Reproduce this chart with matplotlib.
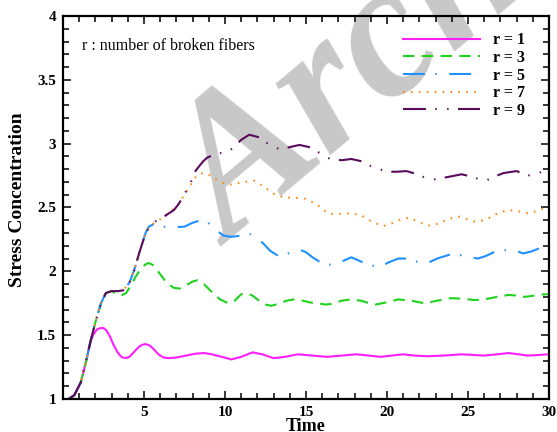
import numpy as np
import matplotlib
matplotlib.use('Agg')
import matplotlib.pyplot as plt
from matplotlib.ticker import MultipleLocator

# tramo comun de subida (todas las curvas)
subida_t = [0.35, 0.7, 1.1, 1.4, 1.7]
subida_s = [1.0, 1.03, 1.13, 1.28, 1.45]

# r = 1
r1_t = [1.9, 2.1, 2.3, 2.5, 2.7, 2.9, 3.1, 3.35, 3.6, 3.85, 4.1, 4.4, 4.7, 4.9, 5.1,
        5.35, 5.6, 5.9, 6.2, 6.55, 7.0, 7.6, 8.2, 8.7, 9.2, 9.8, 10.4, 11.0, 11.7,
        12.3, 13.0, 13.7, 14.5, 15.4, 16.3, 17.2, 18.1, 18.9, 19.6, 20.3, 21.0,
        21.7, 22.5, 23.5, 24.6, 25.3, 26.0, 26.8, 27.5, 28.1, 28.7, 29.4, 30.0]
r1_s = [1.51, 1.545, 1.555, 1.556, 1.535, 1.49, 1.43, 1.37, 1.33, 1.32, 1.33, 1.37,
        1.41, 1.425, 1.43, 1.42, 1.39, 1.35, 1.325, 1.32, 1.325, 1.34, 1.355, 1.36,
        1.35, 1.33, 1.31, 1.33, 1.365, 1.35, 1.32, 1.33, 1.35, 1.34, 1.33, 1.34,
        1.35, 1.34, 1.33, 1.34, 1.35, 1.34, 1.335, 1.34, 1.35, 1.345, 1.34, 1.35,
        1.36, 1.35, 1.34, 1.345, 1.35]

# tramo comun hasta la meseta
meseta_t = [2.0, 2.35, 2.65, 3.0]
meseta_s = [1.60, 1.75, 1.83, 1.845]

# r = 3
r3_t = [3.3, 3.6, 3.9, 4.2, 4.5, 4.8, 5.1, 5.3, 5.55, 5.8, 6.05, 6.4, 6.85, 7.2,
        7.6, 8.0, 8.3, 8.7, 9.25, 9.7, 10.2, 10.6, 11.0, 11.3, 11.7, 12.1, 12.5,
        12.85, 13.3, 13.8, 14.25, 14.8, 15.3, 15.7, 16.2, 16.6, 17.2, 17.8, 18.4,
        18.9, 19.3, 19.9, 20.7, 21.5, 22.3, 23.1, 23.95, 24.7, 25.4, 26.0, 26.8,
        27.5, 28.0, 28.5, 29.1, 29.7, 30.0]
r3_s = [1.825, 1.81, 1.83, 1.89, 1.96, 2.02, 2.055, 2.065, 2.05, 2.01, 1.97, 1.91,
        1.87, 1.865, 1.89, 1.92, 1.93, 1.90, 1.83, 1.78, 1.75, 1.77, 1.82, 1.83,
        1.81, 1.77, 1.74, 1.73, 1.745, 1.77, 1.78, 1.77, 1.755, 1.75, 1.74, 1.745,
        1.77, 1.78, 1.77, 1.75, 1.74, 1.755, 1.78, 1.77, 1.75, 1.77, 1.79, 1.785,
        1.775, 1.78, 1.80, 1.815, 1.81, 1.80, 1.81, 1.82, 1.82]

# tramo comun r = 5, 7, 9
comun_t = [3.4, 3.7, 4.1, 4.4, 4.7, 5.1]
comun_s = [1.845, 1.85, 1.91, 2.01, 2.14, 2.30]

# r = 5
r5_t = [5.3, 5.6, 5.9, 6.25, 6.8, 7.5, 8.0, 8.5, 8.9, 9.25, 9.6, 9.9, 10.4, 11.0,
        11.6, 12.0, 12.35, 12.8, 13.3, 13.9, 14.6, 15.0, 15.4, 15.9, 16.35, 17.0,
        17.8, 18.6, 19.5, 20.1, 20.7, 21.3, 22.1, 22.5, 23.1, 24.1, 24.75, 25.2,
        25.6, 26.1, 26.6, 27.5, 28.0, 28.4, 28.9, 29.4, 30.0]
r5_s = [2.35, 2.37, 2.37, 2.35, 2.345, 2.35, 2.38, 2.40, 2.385, 2.35, 2.31, 2.28,
        2.27, 2.28, 2.29, 2.26, 2.22, 2.16, 2.12, 2.14, 2.17, 2.15, 2.11, 2.07,
        2.05, 2.065, 2.11, 2.065, 2.03, 2.07, 2.10, 2.10, 2.065, 2.065, 2.10, 2.14,
        2.12, 2.11, 2.10, 2.12, 2.15, 2.17, 2.16, 2.14, 2.155, 2.18, 2.20]

# r = 7
r7_t = [5.4, 5.8, 6.25, 6.85, 7.1, 7.4, 7.7, 8.0, 8.2, 8.45, 8.7, 9.1, 9.6, 10.0,
        10.4, 10.8, 11.2, 11.8, 12.2, 12.65, 13.1, 13.65, 14.2, 14.8, 15.3, 15.7,
        16.2, 16.5, 17.1, 17.8, 18.4, 18.8, 19.2, 19.8, 20.4, 20.9, 21.4, 21.9,
        22.3, 22.7, 23.3, 23.8, 24.4, 24.9, 25.4, 26.0, 26.5, 26.9, 27.5, 28.1,
        28.7, 29.2, 29.7, 30.0]
r7_s = [2.36, 2.39, 2.43, 2.49, 2.52, 2.58, 2.64, 2.70, 2.74, 2.765, 2.77, 2.75,
        2.71, 2.685, 2.68, 2.69, 2.70, 2.71, 2.68, 2.64, 2.60, 2.58, 2.575, 2.575,
        2.55, 2.52, 2.47, 2.45, 2.45, 2.455, 2.44, 2.41, 2.38, 2.355, 2.38, 2.41,
        2.42, 2.39, 2.37, 2.355, 2.38, 2.41, 2.43, 2.41, 2.39, 2.40, 2.43, 2.46,
        2.48, 2.47, 2.455, 2.47, 2.495, 2.50]

# r = 9
r9_t = [5.4, 5.8, 6.25, 6.85, 7.1, 7.4, 7.65, 7.9, 8.2, 8.64, 8.9, 9.25, 9.7, 10.2,
        10.6, 11.0, 11.5, 12.1, 12.65, 13.3, 13.9, 14.6, 15.3, 16.05, 16.5, 17.2,
        17.8, 18.5, 19.2, 20.1, 20.6, 21.2, 21.9, 22.4, 22.9, 23.4, 23.8, 24.6,
        25.3, 25.7, 26.1, 26.6, 27.2, 28.0, 28.7, 29.4, 30.0]
r9_s = [2.36, 2.40, 2.43, 2.48, 2.52, 2.58, 2.64, 2.70, 2.79, 2.86, 2.89, 2.91,
        2.925, 2.935, 2.98, 3.03, 3.07, 3.05, 3.00, 2.96, 2.97, 2.99, 2.97, 2.91,
        2.88, 2.87, 2.88, 2.86, 2.81, 2.78, 2.78, 2.785, 2.76, 2.73, 2.72, 2.73,
        2.74, 2.76, 2.74, 2.72, 2.71, 2.74, 2.77, 2.785, 2.75, 2.77, 2.81]

etiquetas = ['r = 1', 'r = 3', 'r = 5', 'r = 7', 'r = 9']
cores = ['#ff1eff', '#1ed21e', '#1e90ff', '#ff8c1a', '#5a0a5a']

serif = 'Liberation Serif'

fig = plt.figure(figsize=(5.57, 4.32), dpi=100)
ax = fig.add_axes([0.113, 0.0764, 0.8726, 0.8866])

# marca de agua
ax.text(231 / 557, 1 - 247 / 432, 'Archive', transform=fig.transFigure,
        fontsize=140, family=serif, weight='bold', style='italic',
        color='#c8c8c8', rotation=40, rotation_mode='anchor',
        ha='left', va='baseline', clip_on=False, zorder=1)

lw = 1.5
t1 = subida_t + r1_t
s1 = subida_s + r1_s
t3 = subida_t + meseta_t + r3_t
s3 = subida_s + meseta_s + r3_s
t5 = subida_t + meseta_t + comun_t + r5_t
s5 = subida_s + meseta_s + comun_s + r5_s
t7 = subida_t + meseta_t + comun_t + r7_t
s7 = subida_s + meseta_s + comun_s + r7_s
t9 = subida_t + meseta_t + comun_t + r9_t
s9 = subida_s + meseta_s + comun_s + r9_s

ax.plot(t1, s1, color=cores[0], lw=lw, ls='-', label=etiquetas[0], zorder=2)
ax.plot(t3, s3, color=cores[1], lw=lw, ls=(0, (5.5, 3.5)), label=etiquetas[1], zorder=2)
ax.plot(t5, s5, color=cores[2], lw=lw, ls=(0, (10.5, 5, 0.7, 6)), label=etiquetas[2], zorder=2)
ax.plot(t7, s7, color=cores[3], lw=lw, ls=(0, (0.8, 3)), label=etiquetas[3], zorder=2)
ax.plot(t9, s9, color=cores[4], lw=lw, ls=(0, (11, 4.5, 0.7, 5, 0.7, 4.5)), label=etiquetas[4], zorder=2)

ax.set_xlim(0, 30)
ax.set_ylim(1, 4)
ax.xaxis.set_major_locator(MultipleLocator(5))
ax.xaxis.set_minor_locator(MultipleLocator(1))
ax.yaxis.set_major_locator(MultipleLocator(0.5))
ax.yaxis.set_minor_locator(MultipleLocator(0.1))
ax.set_xticks([5, 10, 15, 20, 25, 30])
ax.set_xticklabels(['5', '10', '15', '20', '25', '30'])
ax.set_yticks([1, 1.5, 2, 2.5, 3, 3.5, 4])
ax.set_yticklabels(['1', '1.5', '2', '2.5', '3', '3.5', '4'])

ax.tick_params(which='both', direction='in', top=True, right=True, width=1.1, color='black')
ax.tick_params(which='major', length=6, pad=5)
ax.tick_params(which='minor', length=4)
for lab in ax.get_xticklabels() + ax.get_yticklabels():
    lab.set_family(serif)
    lab.set_weight('bold')
    lab.set_fontsize(11)
for sp in ax.spines.values():
    sp.set_linewidth(1.6)

ax.set_xlabel('Time', family=serif, weight='bold', fontsize=13, labelpad=-1)
ax.set_ylabel('Stress Concentration', family=serif, weight='bold', fontsize=14)
ax.yaxis.set_label_coords(-0.077, 0.52)

ax.text(82 / 557, 1 - 50 / 432, 'r : number of broken fibers', transform=fig.transFigure,
        family=serif, fontsize=11.5, ha='left', va='baseline')

leg = ax.legend(loc='upper left', bbox_to_anchor=(0.70, 0.957), frameon=False,
                prop={'family': serif, 'weight': 'bold', 'size': 11.5},
                handlelength=4.8, handletextpad=0.8, labelspacing=0.1,
                borderpad=0, borderaxespad=0)

fig.savefig('out.png', dpi=100)
